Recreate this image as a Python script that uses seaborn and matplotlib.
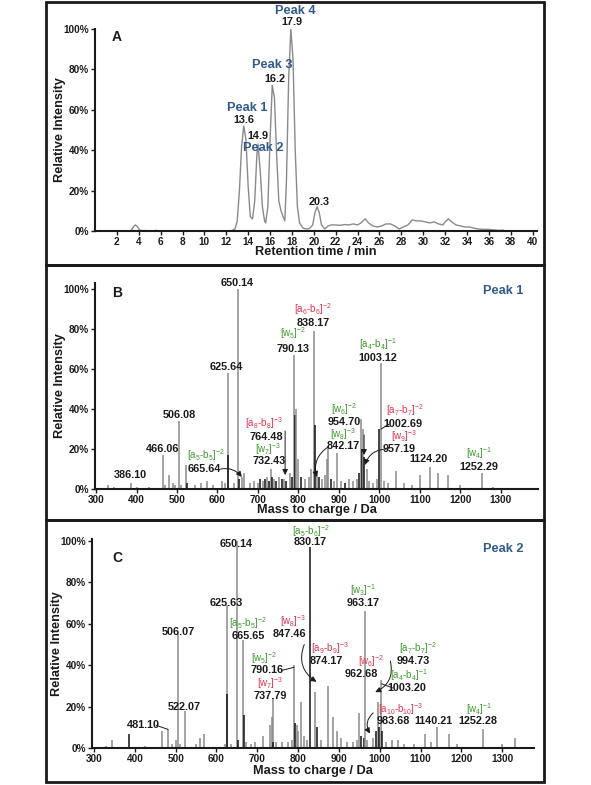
import numpy as np
import pandas as pd
import matplotlib
matplotlib.use('Agg')
import matplotlib.pyplot as plt
import seaborn as sns
from matplotlib.patches import Rectangle
from matplotlib.ticker import FuncFormatter

sns.set_theme(style='ticks')
plt.rcParams['font.family'] = ['Liberation Sans', 'DejaVu Sans']
plt.rcParams['mathtext.fontset'] = 'custom'
plt.rcParams['mathtext.rm'] = 'Liberation Sans'
plt.rcParams['mathtext.it'] = 'Liberation Sans'
plt.rcParams['mathtext.bf'] = 'Liberation Sans:bold'
plt.rcParams['mathtext.default'] = 'regular'

# ---------------- data ----------------
# Panel A: chromatogram (retention time, relative intensity %)
rt_time = [0, 3.3, 3.5, 3.7, 3.9, 4.1, 5.5, 5.6, 5.7, 12.4, 12.8, 13.0, 13.2, 13.4, 13.6, 13.8,
           14.0, 14.2, 14.4, 14.6, 14.8, 14.9, 15.1, 15.3, 15.5, 15.6, 15.8, 16.0, 16.2,
           16.4, 16.6, 16.8, 17.0, 17.2, 17.35, 17.5, 17.7, 17.9, 18.1, 18.3, 18.5, 18.7,
           19.0, 19.3, 19.6, 19.9, 20.1, 20.3, 20.5, 20.7, 21.0, 21.3, 21.6, 22.0, 22.4,
           22.8, 23.2, 23.6, 24.0, 24.3, 24.7, 25.0, 25.4, 25.8, 26.2, 26.6, 27.0, 27.4,
           27.8, 28.2, 28.6, 29.0, 29.4, 29.8, 30.2, 30.6, 31.0, 31.4, 31.8, 32.0, 32.3,
           32.6, 33.0, 33.4, 33.8, 34.2, 34.6, 35.0, 35.5, 36.0, 36.5, 37.0, 37.3, 37.4]
rt_intensity = [0, 0, 2, 3, 2, 0.3, 0, 0.4, 0, 0, 1, 5, 20, 42, 52, 45,
                22, 7, 6, 15, 38, 43, 30, 12, 5, 4, 12, 45, 72,
                66, 38, 15, 10, 7, 5, 25, 75, 100, 85, 40, 12, 4,
                1.5, 1, 1.2, 3, 9, 12, 9, 3, 1, 2.5, 3, 3, 2.8,
                3.2, 3, 3.5, 3, 4, 6, 4, 2.5, 2, 2.5, 3.5, 3.5, 2.5,
                1, 2, 3, 5.5, 5, 5, 4.5, 4, 4.5, 3.5, 3, 4.5, 6,
                4.5, 3, 2.5, 2, 2, 1.5, 1, 0.8, 0.8, 0.5, 0.3, 0.5, 0]
rt_ticks = list(range(2, 41, 2))

# Panel B: MS/MS spectrum of Peak 1
mz_b = [330, 345, 386.10, 400, 430, 466.06, 470, 481, 490, 495, 506.08, 510, 522, 523.5, 545, 560,
        575, 590, 610, 618, 625.64, 627, 640, 650.14, 652, 660, 665.64, 680, 690, 700, 705,
        712, 718, 722, 726, 732.43, 735, 740, 745, 752, 760, 764.48, 770, 778, 783, 790.13,
        792, 795, 800, 805, 815, 825, 832, 838.17, 840, 845, 850, 858, 865, 870, 873, 880,
        888, 895, 905, 915, 925, 935, 945, 950, 954.70, 957.19, 960, 962, 968, 975, 985,
        995, 1000, 1003.12, 1010, 1020, 1040, 1060, 1080, 1100, 1124.20, 1145, 1170, 1200,
        1252.29, 1280]
int_b = [2, 1, 3, 1, 1, 17, 2, 7, 3, 2, 34, 2, 12, 3, 2, 3,
         4, 2, 4, 3, 58, 17, 3, 100, 5, 6, 8, 3, 4, 3, 5,
         4, 5, 6, 4, 10, 6, 5, 4, 6, 5, 5, 4, 8, 6, 67,
         37, 40, 15, 6, 5, 6, 10, 79, 32, 8, 6, 5, 7, 15, 21, 5,
         4, 18, 4, 3, 5, 4, 5, 8, 35, 20, 30, 16, 10, 4, 3,
         5, 30, 63, 4, 3, 9, 3, 2, 7, 11, 8, 7, 2,
         8, 1]
dark_b = [0, 0, 0, 0, 0, 0, 0, 0, 0, 0, 0, 0, 0, 1, 0, 0,
          0, 0, 0, 0, 0, 1, 0, 0, 1, 0, 0, 0, 0, 0, 1,
          0, 1, 0, 1, 0, 1, 0, 1, 0, 1, 0, 1, 0, 1, 0,
          1, 0, 0, 1, 0, 0, 0, 0, 1, 0, 1, 0, 0, 0, 0, 1,
          0, 0, 0, 1, 0, 0, 0, 1, 0, 1, 0, 1, 0, 0, 0,
          0, 1, 0, 0, 0, 0, 0, 0, 0, 0, 0, 0, 0,
          0, 0]

# Panel C: MS/MS spectrum of Peak 2
mz_c = [330, 345, 386, 425, 466, 481.10, 492, 500, 506.07, 510, 522.07, 550, 560, 570, 620,
        625.63, 627, 635, 650.14, 652, 665.65, 667, 672, 685, 695, 715, 730, 735, 737.79,
        739, 745, 760, 775, 785, 790.16, 792, 797, 800, 806, 815, 822, 830.17, 842, 847.46,
        855, 874.17, 886, 895, 905, 920, 935, 945, 950, 955, 962.68, 963.17, 970, 983.68,
        990, 994.73, 998, 1003.20, 1005, 1015, 1030, 1045, 1060, 1085, 1110, 1125, 1140.21,
        1170, 1190, 1252.28, 1300, 1332]
int_c = [1, 4, 7, 1, 8, 9, 2, 4, 55, 2, 18, 2, 5, 7, 2,
         69, 26, 2, 100, 4, 52, 16, 3, 2, 3, 6, 11, 15, 24,
         3, 3, 3, 3, 4, 40, 12, 11, 8, 22, 6, 4, 97, 27, 10,
         4, 30, 15, 8, 5, 3, 3, 4, 17, 6, 5, 66, 4, 5,
         8, 22, 10, 33, 8, 3, 4, 4, 2, 2, 7, 3, 10,
         7, 2, 9, 2, 5]
dark_c = [0, 0, 1, 0, 0, 0, 0, 0, 0, 0, 0, 0, 0, 0, 0,
          0, 1, 0, 0, 1, 0, 1, 0, 0, 0, 0, 0, 0, 0,
          1, 0, 0, 0, 0, 0, 1, 0, 0, 0, 0, 0, 1, 0, 1,
          0, 0, 0, 0, 0, 0, 0, 0, 0, 1, 1, 0, 0, 0,
          1, 0, 1, 0, 1, 0, 0, 0, 0, 0, 0, 0, 0,
          0, 0, 0, 0, 0]
ms_ticks = list(range(300, 1301, 100))
pct_ticks = [0, 20, 40, 60, 80, 100]

RED = '#e8324f'
GREEN = '#3c9a2c'
BLUE = '#2f5b8c'
GREY = '#8a8a8a'

NUM = 7.8    # peak value labels
ION = 7.0    # ion annotation labels
PEAK = 9.2   # "Peak n" labels

# ---------------- figure ----------------
W, H = 591, 785
fig = plt.figure(figsize=(W / 100, H / 100), dpi=100)
fig.patch.set_facecolor('white')

def ax_at(l, t, r, b):
    return fig.add_axes([l / W, 1 - b / H, (r - l) / W, (b - t) / H])

for (t, b) in [(2, 265), (265, 520), (520, 782)]:
    fig.patches.append(Rectangle((46 / W, 1 - b / H), (544 - 46) / W, (b - t) / H,
                                 transform=fig.transFigure, fill=False, lw=2, ec='k'))

pctfmt = FuncFormatter(lambda v, p: f'{v:.0f}%')

def style(ax, xticks, xlabel, xl_y, yl_x):
    sns.despine(ax=ax)
    for s in ['left', 'bottom']:
        ax.spines[s].set_linewidth(1.5)
        ax.spines[s].set_color('k')
    ax.set_xticks(xticks)
    ax.set_yticks(pct_ticks)
    ax.yaxis.set_major_formatter(pctfmt)
    ax.tick_params(axis='both', length=3, width=1, labelsize=7.2, pad=1.5, colors='k')
    for lab in ax.get_xticklabels() + ax.get_yticklabels():
        lab.set_fontweight('bold')
    ax.set_xlabel(xlabel, fontsize=9.2, fontweight='bold', color='k')
    ax.set_ylabel('Relative Intensity', fontsize=9.2, fontweight='bold', color='k')
    ax.xaxis.set_label_coords(0.5, xl_y)
    ax.yaxis.set_label_coords(yl_x, 0.5)
    ax.set_facecolor('none')

def txt(ax, x, y, s, color='k', size=NUM, weight='bold', ha='center'):
    ax.text(x, y, s, color=color, fontsize=size, fontweight=weight, ha=ha, va='center',
            clip_on=False)

def ion(ax, x, y, s, color):
    txt(ax, x, y, s, color=color, size=ION, weight='normal')

def arrow(ax, tail, head, rad=0.0, head_on=True):
    ax.annotate('', xy=head, xytext=tail,
                arrowprops=dict(arrowstyle='-|>' if head_on else '-', color='k', lw=0.7,
                                mutation_scale=8, shrinkA=0, shrinkB=0,
                                connectionstyle=f'arc3,rad={rad}'),
                annotation_clip=False)

# ---- Panel A ----
axA = ax_at(95, 29, 537, 231)
dfA = pd.DataFrame({'time': rt_time, 'intensity': rt_intensity})
sns.lineplot(data=dfA, x='time', y='intensity', ax=axA, color=GREY, lw=1,
             sort=False, estimator=None)
axA.set_xlim(0, 40.4)
axA.set_ylim(0, 100)
style(axA, rt_ticks, 'Retention time / min', -0.075, -0.065)
txt(axA, 2.0, 96, 'A', size=10)
txt(axA, 18.3, 109, 'Peak 4', color=BLUE, size=PEAK)
txt(axA, 18.0, 103.5, '17.9')
txt(axA, 16.2, 82, 'Peak 3', color=BLUE, size=PEAK)
txt(axA, 16.4, 75, '16.2')
txt(axA, 13.9, 61, 'Peak 1', color=BLUE, size=PEAK)
txt(axA, 13.6, 55, '13.6')
txt(axA, 14.9, 47, '14.9')
txt(axA, 15.4, 41, 'Peak 2', color=BLUE, size=PEAK)
txt(axA, 20.5, 14.5, '20.3')

# ---- Panel B ----
axB = ax_at(95, 283, 538, 489)
axB.vlines(mz_b, 0, int_b, colors=['#111111' if d else GREY for d in dark_b], lw=1.1)
axB.set_xlim(297.5, 1391.5)
axB.set_ylim(0, 103)
style(axB, ms_ticks, 'Mass to charge / Da', -0.075, -0.065)
txt(axB, 352, 98, 'B', size=10)
txt(axB, 1305, 99, 'Peak 1', color=BLUE, size=PEAK)
txt(axB, 648, 103, '650.14')
txt(axB, 623, 61, '625.64')
txt(axB, 505, 37, '506.08')
txt(axB, 465, 20, '466.06')
txt(axB, 386, 7, '386.10')
ion(axB, 572, 17, r'[a$_5$-b$_5$]$^{-2}$', GREEN)
txt(axB, 567, 10, '665.64')
arrow(axB, (608, 10), (660, 6), rad=-0.3)
ion(axB, 715, 33, r'[a$_8$-b$_8$]$^{-3}$', RED)
txt(axB, 720, 26, '764.48')
arrow(axB, (767, 29), (767, 7))
ion(axB, 725, 20, r'[w$_7$]$^{-3}$', GREEN)
txt(axB, 727, 14, '732.43')
ion(axB, 787, 78, r'[w$_5$]$^{-2}$', GREEN)
txt(axB, 787, 70, '790.13')
ion(axB, 836, 90, r'[a$_6$-b$_6$]$^{-2}$', RED)
txt(axB, 836, 83, '838.17')
ion(axB, 912, 40, r'[w$_6$]$^{-2}$', GREEN)
txt(axB, 912, 33.5, '954.70')
arrow(axB, (962, 27), (962, 17))
ion(axB, 910, 27.5, r'[w$_8$]$^{-3}$', GREEN)
txt(axB, 910, 21.5, '842.17')
arrow(axB, (873, 21), (845, 6), rad=0.35)
ion(axB, 996, 72.5, r'[a$_4$-b$_4$]$^{-1}$', GREEN)
txt(axB, 996, 65.5, '1003.12')
ion(axB, 1063, 39.5, r'[a$_7$-b$_7$]$^{-2}$', RED)
txt(axB, 1058, 32.5, '1002.69')
arrow(axB, (1024, 32.5), (1004, 30), head_on=False)
ion(axB, 1060, 26.5, r'[w$_9$]$^{-3}$', RED)
txt(axB, 1048, 20, '957.19')
arrow(axB, (1019, 20), (964, 12), rad=0.35)
txt(axB, 1120, 15, '1124.20')
ion(axB, 1246, 18, r'[w$_4$]$^{-1}$', GREEN)
txt(axB, 1246, 11, '1252.29')

# ---- Panel C ----
axC = ax_at(92, 539, 534, 748)
axC.vlines(mz_c, 0, int_c, colors=['#111111' if d else GREY for d in dark_c], lw=1.1)
axC.set_xlim(295, 1378)
axC.set_ylim(0, 101)
style(axC, ms_ticks, 'Mass to charge / Da', -0.082, -0.065)
txt(axC, 356, 92, 'C', size=10)
txt(axC, 1302, 96, 'Peak 2', color=BLUE, size=PEAK)
txt(axC, 648, 98.5, '650.14')
txt(axC, 623, 70, '625.63')
txt(axC, 506, 56, '506.07')
txt(axC, 521, 20, '522.07')
txt(axC, 421, 11, '481.10')
arrow(axC, (452, 11), (481, 9), head_on=False)
ion(axC, 677, 60.5, r'[a$_5$-b$_5$]$^{-2}$', GREEN)
txt(axC, 677, 54, '665.65')
ion(axC, 717, 43.5, r'[w$_5$]$^{-2}$', GREEN)
txt(axC, 724, 37.5, '790.16')
arrow(axC, (760, 37.5), (790, 39), head_on=False)
ion(axC, 731, 31.5, r'[w$_7$]$^{-3}$', RED)
txt(axC, 731, 25, '737.79')
ion(axC, 788, 61.5, r'[w$_8$]$^{-3}$', RED)
txt(axC, 778, 55, '847.46')
arrow(axC, (815, 50), (845, 32), rad=0.4)
ion(axC, 830, 105, r'[a$_5$-b$_6$]$^{-2}$', GREEN)
txt(axC, 830, 99.5, '830.17')
ion(axC, 878, 48.5, r'[a$_9$-b$_9$]$^{-3}$', RED)
txt(axC, 869, 42, '874.17')
ion(axC, 959, 76.5, r'[w$_3$]$^{-1}$', GREEN)
txt(axC, 959, 70, '963.17')
ion(axC, 979, 42, r'[w$_6$]$^{-2}$', RED)
txt(axC, 955, 36, '962.68')
arrow(axC, (1026, 42), (989, 27), rad=-0.4)
ion(axC, 1092, 48.5, r'[a$_7$-b$_7$]$^{-2}$', GREEN)
txt(axC, 1082, 42, '994.73')
ion(axC, 1072, 35, r'[a$_4$-b$_4$]$^{-1}$', GREEN)
txt(axC, 1067, 29, '1003.20')
arrow(axC, (1032, 29), (1005, 31), head_on=False)
ion(axC, 1050, 19, r'[a$_{10}$-b$_{10}$]$^{-3}$', RED)
txt(axC, 1033, 13, '983.68')
arrow(axC, (984, 17), (976, 7), rad=0.4)
txt(axC, 1131, 13, '1140.21')
ion(axC, 1244, 19, r'[w$_4$]$^{-1}$', GREEN)
txt(axC, 1241, 13, '1252.28')

fig.savefig('out.png', dpi=100, facecolor='white')
